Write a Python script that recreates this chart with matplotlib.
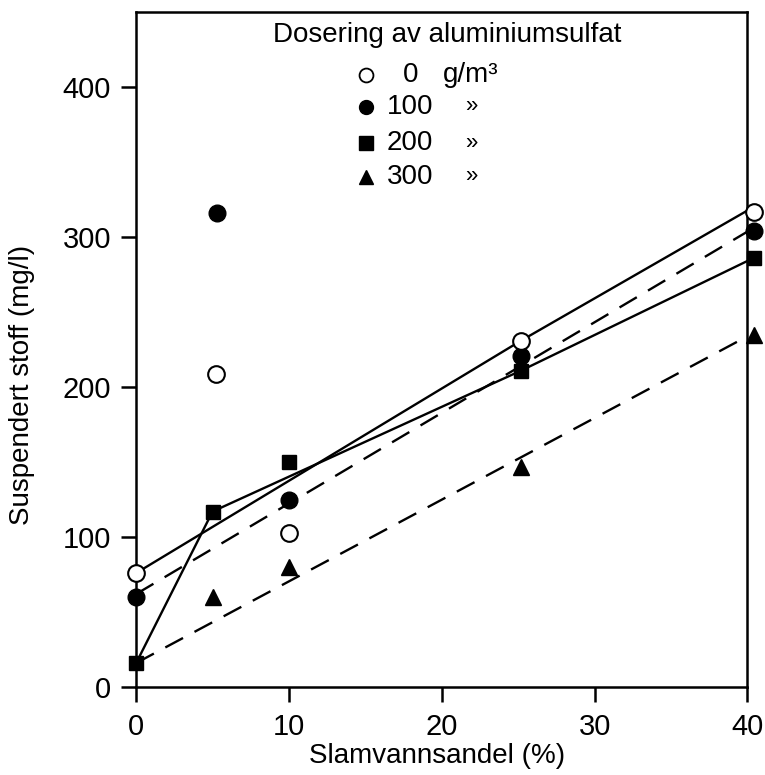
import numpy as np
import matplotlib
matplotlib.use("Agg")
import matplotlib.pyplot as plt

plt.rcParams['font.family'] = ['Liberation Sans', 'DejaVu Sans']

# measured points (Slamvannsandel %, Suspendert stoff mg/l)
x_0 = [0, 5.2, 10, 25.2, 40.4]
y_0 = [76, 209, 103, 231, 317]
x_100 = [0, 5.3, 10, 25.2, 40.4]
y_100 = [60, 316, 125, 221, 304]
x_200 = [0, 5, 10, 25.2, 40.4]
y_200 = [16, 117, 150, 211, 286]
x_300 = [5, 10, 25.2, 40.4]
y_300 = [60, 80, 147, 235]

# drawn curves
line_0_x = [0, 25.2, 40.4]
line_0_y = [76, 231, 320]
line_100_x = [0, 40.4]
line_100_y = [62, 306]
line_200_x = [0, 5, 25.2, 40.4]
line_200_y = [16, 117, 211, 286]
line_300_x = [0, 40.4]
line_300_y = [16, 236]

doses = ['0', '100', '200', '300']
units = ['g/m\u00b3', '\u00bb', '\u00bb', '\u00bb']

fig = plt.figure(figsize=(7.65, 7.75), dpi=100)
ax = fig.add_axes([0.178, 0.1135, 0.799, 0.871])

lw = 1.7
dash = (8.5, 5.5)
ax.plot(line_0_x, line_0_y, '-', color='black', lw=lw, zorder=2)
ax.plot(line_100_x, line_100_y, color='black', lw=lw, dashes=dash, zorder=2)
ax.plot(line_200_x, line_200_y, '-', color='black', lw=lw, zorder=2)
ax.plot(line_300_x, line_300_y, color='black', lw=lw, dashes=dash, zorder=2)

ax.plot(x_100, y_100, 'o', ms=12, color='black', zorder=3, clip_on=False)
ax.plot(x_0, y_0, 'o', ms=12, mfc='white', mec='black', mew=1.5, zorder=4, clip_on=False)
ax.plot(x_200, y_200, 's', ms=10.5, color='black', zorder=3, clip_on=False)
ax.plot(x_300, y_300, '^', ms=11, color='black', zorder=3, clip_on=False)

# legend drawn by hand to match the layout
ax.text(0.509, 0.966, 'Dosering av aluminiumsulfat', transform=ax.transAxes,
        ha='center', va='center', fontsize=20)
row_y = [0.9067, 0.8593, 0.8059, 0.7556]
styles = [dict(marker='o', mfc='white', mec='black', mew=1.3),
          dict(marker='o', color='black'),
          dict(marker='s', color='black'),
          dict(marker='^', color='black')]
for yy, d, u, st in zip(row_y, doses, units, styles):
    ax.plot([0.3764], [yy], transform=ax.transAxes, ms=10, ls='none',
            clip_on=False, **st)
    ax.text(0.4484, yy, d, transform=ax.transAxes, ha='center', va='center',
            fontsize=20)
    if u.startswith('g'):
        ax.text(0.5025, yy, u, transform=ax.transAxes, ha='left', va='center',
                fontsize=20)
    else:
        ax.text(0.538, yy, u, transform=ax.transAxes, ha='left', va='center',
                fontsize=16)

ax.set_xlim(0, 40)
ax.set_ylim(0, 450)
ax.set_xticks([0, 10, 20, 30, 40])
ax.set_yticks([0, 100, 200, 300, 400])
ax.tick_params(direction='out', length=11, width=1.8, labelsize=21, pad=7)
ax.tick_params(axis='x', pad=8)
for s in ax.spines.values():
    s.set_linewidth(1.8)

ax.set_xlabel('Slamvannsandel (%)', fontsize=20)
ax.set_ylabel('Suspendert stoff (mg/l)', fontsize=20)
ax.xaxis.set_label_coords(0.493, -0.083)
ax.yaxis.set_label_coords(-0.165, 0.447)

fig.savefig('out.png', dpi=100)
